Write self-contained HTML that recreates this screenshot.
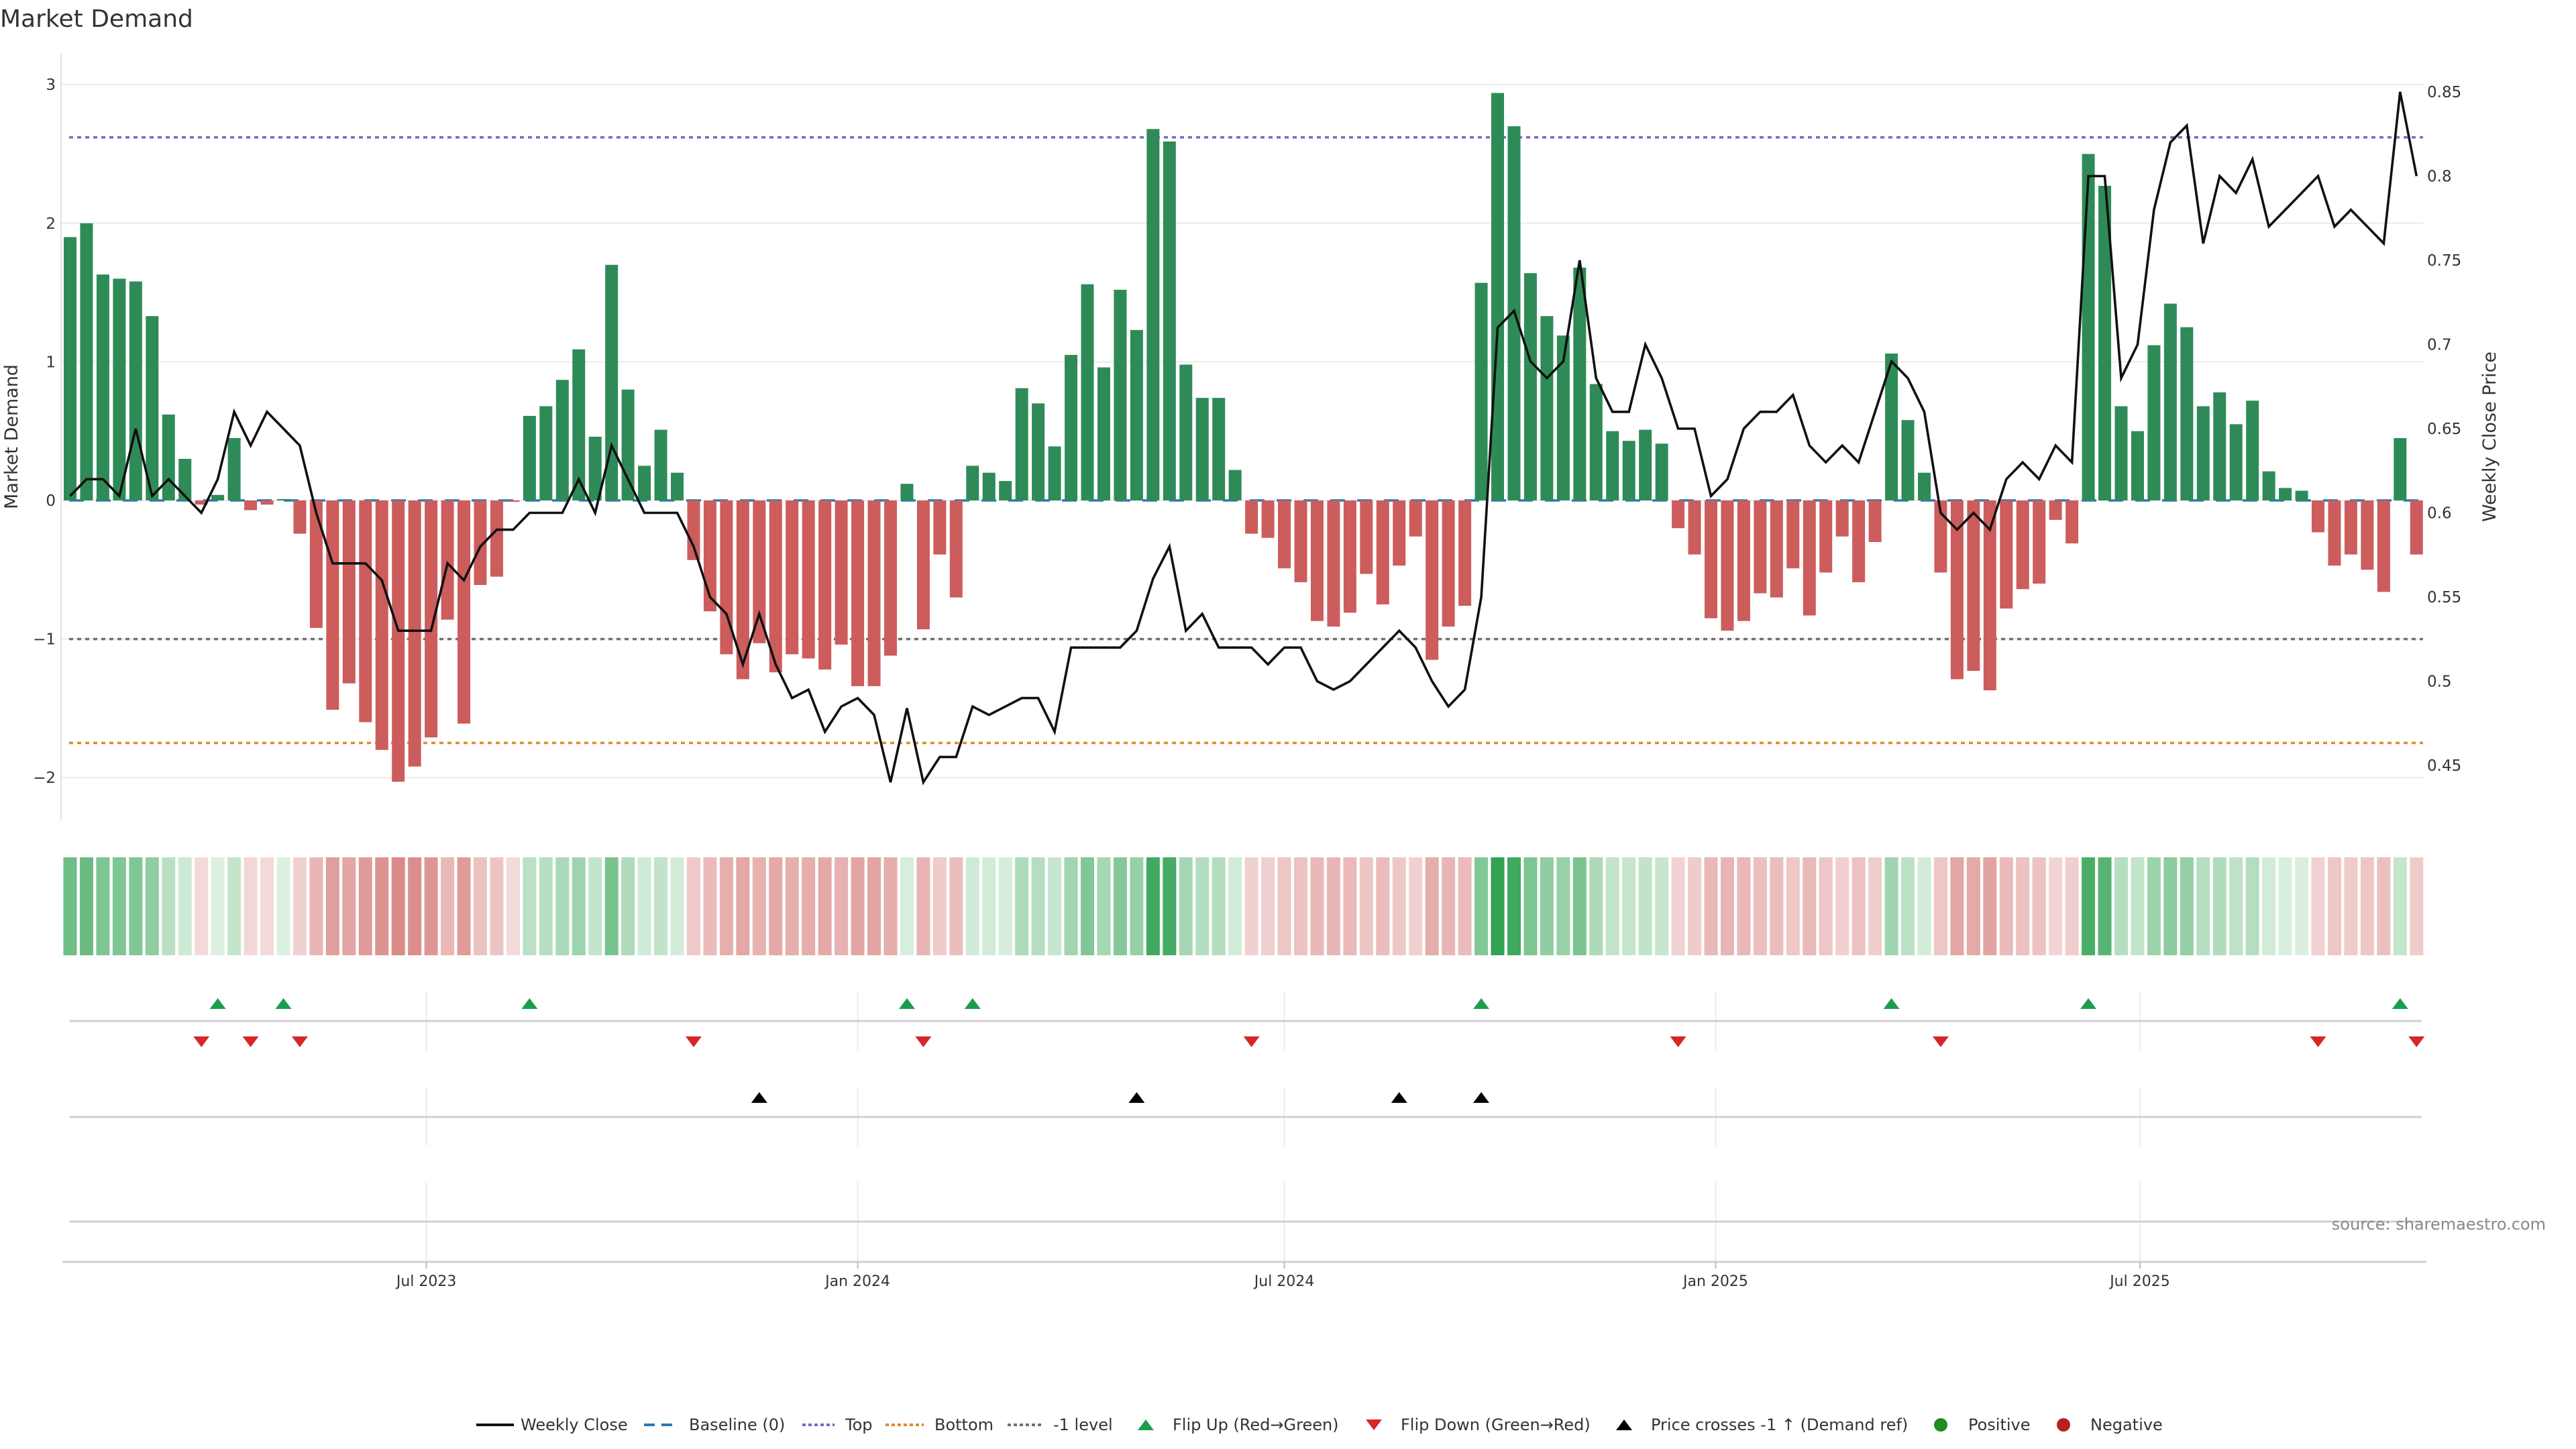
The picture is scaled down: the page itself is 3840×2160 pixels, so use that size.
<!DOCTYPE html>
<html><head><meta charset="utf-8"><title>Market Demand</title>
<style>
html,body{margin:0;padding:0;background:#fff;}
svg{display:block;font-family:"DejaVu Sans","Liberation Sans",sans-serif;}
</style></head>
<body>
<svg id="chart" width="3840" height="2160" viewBox="0 0 3840 2160" xmlns="http://www.w3.org/2000/svg">
  <rect x="0" y="0" width="3840" height="2160" fill="#fff"/>
  <text x="0" y="40" font-size="36" fill="#333">Market Demand</text>
  <g id="grid"></g>
  <g id="refs"></g>
  <g id="bars"></g>
  <g id="priceg"></g>
  <g id="axes"></g>
  <g id="heat"></g>
  <g id="lanes"></g>
  <g id="legend"></g>
  <text x="3795" y="1833" font-size="24" fill="#888" text-anchor="end">source: sharemaestro.com</text>
</svg>
<script>
const demand = [1.9,2.0,1.63,1.6,1.58,1.33,0.62,0.3,-0.03,0.04,0.45,-0.07,-0.03,0.01,-0.24,-0.92,-1.51,-1.32,-1.6,-1.8,-2.03,-1.92,-1.71,-0.86,-1.61,-0.61,-0.55,-0.01,0.61,0.68,0.87,1.09,0.46,1.7,0.8,0.25,0.51,0.2,-0.43,-0.8,-1.11,-1.29,-1.03,-1.24,-1.11,-1.14,-1.22,-1.04,-1.34,
-1.34,-1.12,0.12,-0.93,-0.39,-0.70,0.25,0.2,0.14,0.81,0.70,0.39,1.05,1.56,0.96,1.52,1.23,2.68,2.59,0.98,0.74,0.74,0.22,-0.24,-0.27,-0.49,-0.59,-0.87,-0.91,
-0.81,-0.53,-0.75,-0.47,-0.26,-1.15,-0.91,-0.76,1.57,2.94,2.70,1.64,1.33,1.19,1.68,0.84,0.50,0.43,0.51,0.41,-0.20,-0.39,-0.85,-0.94,-0.87,-0.67,-0.70,-0.49,-0.83,
-0.52,-0.26,-0.59,-0.30,1.06,0.58,0.20,-0.52,-1.29,-1.23,-1.37,-0.78,-0.64,-0.60,-0.14,-0.31,2.50,2.27,0.68,0.50,1.12,1.42,1.25,0.68,0.78,0.55,0.72,0.21,0.09,0.07,-0.23,-0.47,-0.39,-0.50,-0.66,0.45,-0.39];
const price = [0.61,0.62,0.62,0.61,0.65,0.61,0.62,0.61,0.60,0.62,0.66,0.64,0.66,0.65,0.64,0.60,0.57,0.57,0.57,0.56,0.53,0.53,0.53,0.57,0.56,0.58,0.59,0.59,0.60,0.60,0.60,0.62,0.60,0.64,0.62,0.60,0.60,0.60,0.58,0.55,0.54,0.51,0.54,0.51,0.49,0.495,0.47,0.485,0.49,
0.48,0.44,0.484,0.44,0.455,0.455,0.485,0.48,0.485,0.49,0.49,0.47,0.52,0.52,0.52,0.52,0.53,0.561,0.58,0.53,0.54,0.52,0.52,0.52,0.51,0.52,0.52,0.50,0.495,
0.50,0.51,0.52,0.53,0.52,0.50,0.485,0.495,0.55,0.71,0.72,0.69,0.68,0.69,0.75,0.68,0.66,0.66,0.70,0.68,0.65,0.65,0.61,0.62,0.65,0.66,0.66,0.67,0.64,
0.63,0.64,0.63,0.66,0.69,0.68,0.66,0.60,0.59,0.60,0.59,0.62,0.63,0.62,0.64,0.63,0.80,0.80,0.68,0.70,0.78,0.82,0.83,0.76,0.80,0.79,0.81,0.77,0.78,0.79,0.80,0.77,0.78,0.77,0.76,0.85,0.80];
const flipUpIdx = [9,13,28,51,55,86,111,123,142];
const flipDownIdx = [8,11,14,38,52,72,98,114,137,143];
const crossIdx = [42,65,81,86];
const demandTicks = [-2,-1,0,1,2,3];
const priceTicks = [0.45,0.5,0.55,0.6,0.65,0.7,0.75,0.8,0.85];
const priceTickLabels = ["0.45","0.5","0.55","0.6","0.65","0.7","0.75","0.8","0.85"];
const dateTicks = ["2023-07-01","2024-01-01","2024-07-01","2025-01-01","2025-07-01"];
const dateTickLabels = ["Jul 2023","Jan 2024","Jul 2024","Jan 2025","Jul 2025"];
const refTop = 2.62, refBottom = -1.75, refLevel = -1;
const startDate = "2023-01-30";

const NS = "http://www.w3.org/2000/svg";
const X0 = 104.5, STEP = 24.46, PXDAY = STEP/7;
const startMs = Date.parse(startDate+"T00:00:00Z");
function xIdx(i){ return X0 + i*STEP; }
function xDate(s){ return X0 + (Date.parse(s+"T00:00:00Z")-startMs)/86400000*PXDAY; }
function yD(v){ return 746 - v*206.6; }
function yP(p){ return 764.5 - (p-0.6)/0.05*125.5; }
function mk(tag, parent, attrs){ const e=document.createElementNS(NS,tag); for(const k in attrs) e.setAttribute(k,attrs[k]); parent.appendChild(e); return e; }
const PL = 91, PR = 3612;

// gridlines
const grid = document.getElementById('grid');
demandTicks.forEach(t=>{
  const l = mk('line', grid, {x1:PL, x2:PR, y1:yD(t), y2:yD(t), stroke:'#ececec','stroke-width':2});
  
  
});
// reference lines
const refs = document.getElementById('refs');
[[refTop,'#7b68c8','top-line'],[refLevel,'#707070','minus-one-level-line'],[refBottom,'#e08a2a','bottom-line']].forEach(r=>{
  const l = mk('line', refs, {x1:PL+12, x2:PR, y1:yD(r[0]), y2:yD(r[0]), stroke:r[1],'stroke-width':3.5,'stroke-dasharray':'6 6'});
  
  
});
// bars
const bars = document.getElementById('bars');
demand.forEach((v,i)=>{
  const y0 = yD(0), y1 = yD(v);
  const b = mk('rect', bars, {x:xIdx(i)-9.5, width:19, y:Math.min(y0,y1), height:Math.max(Math.abs(y1-y0),0.5), fill: v>=0?'#2e8b57':'#cd5c5c'});
  
  
});
// baseline
const bl = mk('line', refs, {x1:PL+12, x2:PR, y1:yD(0), y2:yD(0), stroke:'#2a7ab0','stroke-width':3.5,'stroke-dasharray':'22 18'});


// price line
const pg = document.getElementById('priceg');
const pl = mk('polyline', pg, {points: price.map((p,i)=>xIdx(i).toFixed(1)+','+yP(p).toFixed(1)).join(' '), fill:'none', stroke:'#111','stroke-width':3.6,'stroke-linejoin':'miter'});


// axes
const axes = document.getElementById('axes');
const sp = mk('line', axes, {x1:PL, x2:PL, y1:80, y2:1223, stroke:'#e2e2e2','stroke-width':2});


demandTicks.forEach(t=>{
  const tx = mk('text', axes, {x:83, y:yD(t)+8, 'font-size':23, fill:'#333','text-anchor':'end'});
  tx.textContent = t<0 ? '\u2212'+Math.abs(t) : String(t);
  
  
});
priceTicks.forEach((t,k)=>{
  const tx = mk('text', axes, {x:3618, y:yP(t)+8, 'font-size':23, fill:'#333'});
  tx.textContent = priceTickLabels[k];
  
  
});
const lt = mk('text', axes, {x:0, y:0, 'font-size':27, fill:'#333','text-anchor':'middle', transform:'translate(26,651) rotate(-90)'});
lt.textContent = 'Market Demand';


const rt = mk('text', axes, {x:0, y:0, 'font-size':27, fill:'#333','text-anchor':'middle', transform:'translate(3720,651) rotate(-90)'});
rt.textContent = 'Weekly Close Price';


// heatmap
const heat = document.getElementById('heat');
function lerp(a,b,t){ return Math.round(a+(b-a)*t); }
demand.forEach((v,i)=>{
  const t = Math.min(Math.abs(v)/3,1);
  const c = v>=0 ? [lerp(222,46,t),lerp(241,160,t),lerp(226,80,t)] : [lerp(244,205,t),lerp(218,100,t),lerp(218,96,t)];
  const r = mk('rect', heat, {x:xIdx(i)-10, width:20, y:1278, height:146, fill:'rgb('+c.join(',')+')'});
  
  
});
// lanes
const lanes = document.getElementById('lanes');
dateTicks.forEach(d=>{
  const x = xDate(d);
  [[1478,1567],[1622,1708],[1762,1881]].forEach(s=>{
    const g = mk('line', lanes, {x1:x, x2:x, y1:s[0], y2:s[1], stroke:'#ececec','stroke-width':2});
    
    
  });
});
[1522,1665,1821].forEach(y=>{
  const h = mk('line', lanes, {x1:104, x2:3610, y1:y, y2:y, stroke:'#d0d0d0','stroke-width':3});
  
  
});
function tri(parent, cx, cy, up, color, name){
  const w=12, h=16;
  const pts = up ? [cx-w,cy+h/2, cx+w,cy+h/2, cx,cy-h/2] : [cx-w,cy-h/2, cx+w,cy-h/2, cx,cy+h/2];
  const p = mk('polygon', parent, {points: pts.join(','), fill: color});
  
  
}
flipUpIdx.forEach(i=>tri(lanes, xIdx(i), 1496, true, '#1a9e4a', 'flip-up-marker'));
flipDownIdx.forEach(i=>tri(lanes, xIdx(i), 1553, false, '#d62728', 'flip-down-marker'));
crossIdx.forEach(i=>tri(lanes, xIdx(i), 1636, true, '#000', 'price-cross-marker'));
const xa = mk('line', lanes, {x1:93, x2:3617, y1:1881, y2:1881, stroke:'#d0d0d0','stroke-width':3});


dateTicks.forEach((d,k)=>{
  const x = xDate(d);
  const tk = mk('line', lanes, {x1:x, x2:x, y1:1881, y2:1891, stroke:'#bbb','stroke-width':2});
  
  
  const tx = mk('text', lanes, {x:x, y:1917, 'font-size':22, fill:'#333','text-anchor':'middle'});
  tx.textContent = dateTickLabels[k];
  
  
});
// legend
const lg = document.getElementById('legend');
const LY = 2124;
function ltext(x, s){ const t = mk('text', lg, {x:x, y:LY+8, 'font-size':24, fill:'#333'}); t.textContent = s;   }
function lline(x1,x2,color,dash,w){ const l = mk('line', lg, {x1:x1,x2:x2,y1:LY,y2:LY,stroke:color,'stroke-width':w}); if(dash) l.setAttribute('stroke-dasharray',dash);   }
lline(710,766,'#111',null,4); ltext(776,'Weekly Close');
lline(960,1008,'#2a7ab0','16 10',4); ltext(1027,'Baseline (0)');
lline(1196,1244,'#7b68c8','5 4',4); ltext(1260,'Top');
lline(1320,1377,'#e08a2a','5 4',4); ltext(1393,'Bottom');
lline(1502,1554,'#707070','5 4',4); ltext(1570,'-1 level');
tri(lg, 1708, LY, true, '#1a9e4a', 'legend-flip-up'); ltext(1748,'Flip Up (Red\u2192Green)');
tri(lg, 2048, LY, false, '#d62728', 'legend-flip-down'); ltext(2088,'Flip Down (Green\u2192Red)');
tri(lg, 2421, LY, true, '#000', 'legend-price-cross'); ltext(2461,'Price crosses -1 \u2191 (Demand ref)');
const c1 = mk('circle', lg, {cx:2893, cy:LY, r:10, fill:'#228b22'});  
ltext(2934,'Positive');
const c2 = mk('circle', lg, {cx:3076, cy:LY, r:10, fill:'#b22222'});  
ltext(3116,'Negative');
</script>
</body></html>
